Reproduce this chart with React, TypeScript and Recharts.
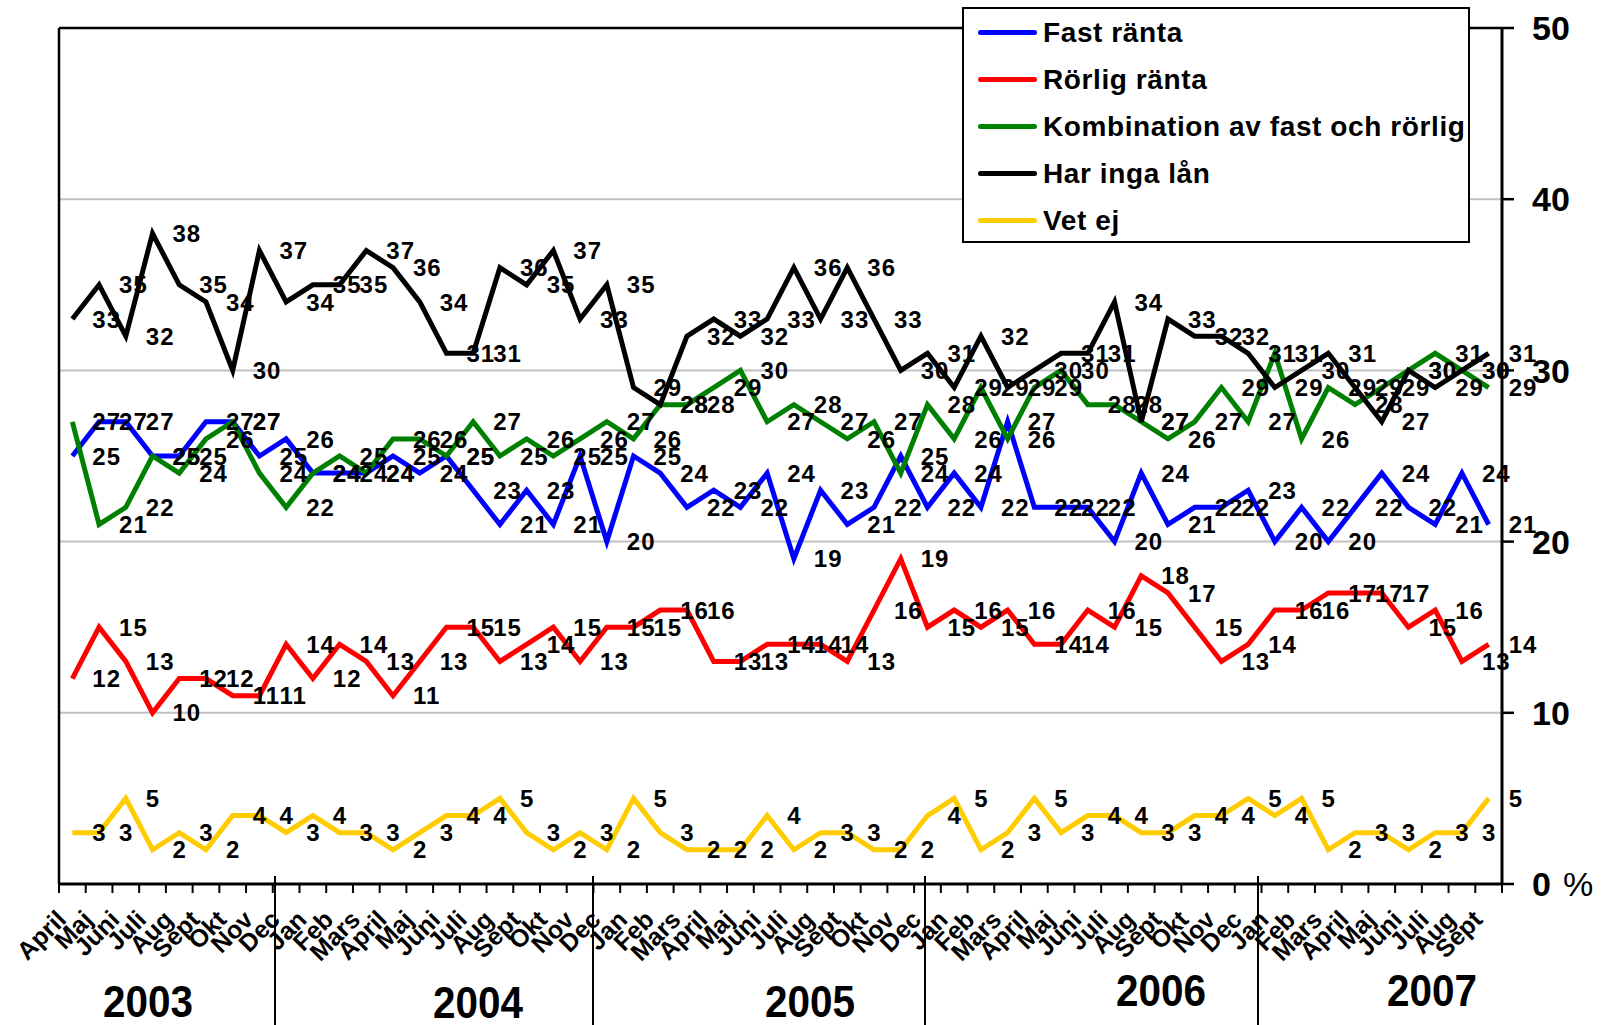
import React from "react";
import {
  LineChart, Line, XAxis, YAxis, CartesianGrid, ReferenceLine, Legend,
} from "recharts";

const FONT = '"Liberation Sans", Arial, sans-serif';

const months = [
  "April", "Maj", "Juni", "Juli", "Aug", "Sept", "Okt", "Nov", "Dec",
  "Jan", "Feb", "Mars", "April", "Maj", "Juni", "Juli", "Aug", "Sept", "Okt", "Nov", "Dec",
  "Jan", "Feb", "Mars", "April", "Maj", "Juni", "Juli", "Aug", "Sept", "Okt", "Nov", "Dec",
  "Jan", "Feb", "Mars", "April", "Maj", "Juni", "Juli", "Aug", "Sept", "Okt", "Nov", "Dec",
  "Jan", "Feb", "Mars", "April", "Maj", "Juni", "Juli", "Aug", "Sept",
];

const years = ["2003", "2004", "2005", "2006", "2007"];

const seriesNames = [
  "Fast ränta",
  "Rörlig ränta",
  "Kombination av fast och rörlig",
  "Har inga lån",
  "Vet ej",
];

const fastRanta = [
  25, 27, 27, 25, 25, 27, 27, 25, 26, 24, 24, 24, 25, 24, 25, 23, 21, 23, 21, 25,
  20, 25, 24, 22, 23, 22, 24, 19, 23, 21, 22, 25, 22, 24, 22, 27, 22, 22, 22, 20,
  24, 21, 22, 22, 23, 20, 22, 20, 22, 24, 22, 21, 24, 21,
];
const rorligRanta = [
  12, 15, 13, 10, 12, 12, 11, 11, 14, 12, 14, 13, 11, 13, 15, 15, 13, 14, 15, 13,
  15, 15, 16, 16, 13, 13, 14, 14, 14, 13, 16, 19, 15, 16, 15, 16, 14, 14, 16, 15,
  18, 17, 15, 13, 14, 16, 16, 17, 17, 17, 15, 16, 13, 14,
];
const kombination = [
  27, 21, 22, 25, 24, 26, 27, 24, 22, 24, 25, 24, 26, 26, 25, 27, 25, 26, 25, 26,
  27, 26, 28, 28, 29, 30, 27, 28, 27, 26, 27, 24, 28, 26, 29, 26, 29, 30, 28, 28,
  27, 26, 27, 29, 27, 31, 26, 29, 28, 29, 30, 31, 30, 29,
];
const ingaLan = [
  33, 35, 32, 38, 35, 34, 30, 37, 34, 35, 35, 37, 36, 34, 31, 31, 36, 35, 37, 33,
  35, 29, 28, 32, 33, 32, 33, 36, 33, 36, 33, 30, 31, 29, 32, 29, 30, 31, 31, 34,
  27, 33, 32, 32, 31, 29, 30, 31, 29, 27, 30, 29, 30, 31,
];
const vetEj = [
  3, 3, 5, 2, 3, 2, 4, 4, 3, 4, 3, 3, 2, 3, 4, 4, 5, 3, 2, 3,
  2, 5, 3, 2, 2, 2, 4, 2, 3, 3, 2, 2, 4, 5, 2, 3, 5, 3, 4, 4,
  3, 3, 4, 4, 5, 4, 5, 2, 3, 3, 2, 3, 3, 5,
];

const yTicks = [0, 10, 20, 30, 40, 50];

const rows = months.map((m, i) => ({
  idx: i,
  month: m,
  fast: fastRanta[i],
  rorlig: rorligRanta[i],
  komb: kombination[i],
  inga: ingaLan[i],
  vet: vetEj[i],
}));

// labels at category centres, tick marks on the boundaries between them
const xTicks: number[] = [];
for (let i = -0.5; i <= months.length - 0.5; i += 0.5) xTicks.push(i);

// hand-placed year dividers and year captions under the axis
const dividerX = [275, 593, 925, 1258];
const yearPos = [
  { x: 148, y: 1002 },
  { x: 478, y: 1003 },
  { x: 810, y: 1002 },
  { x: 1161, y: 991 },
  { x: 1432, y: 991 },
];

function MonthTick(props: any) {
  const { x, y, payload } = props;
  const v = payload.value;
  if (!Number.isInteger(v)) {
    return <line x1={x} y1={y} x2={x} y2={y + 9} stroke="#000" strokeWidth={2} />;
  }
  const ax = x - 11;
  const ay = y + 31;
  return (
    <text
      x={ax} y={ay} dy="0.35em" textAnchor="end"
      transform={`rotate(-45 ${ax} ${ay})`}
      fontSize={25} fontWeight="bold" fontFamily={FONT} fill="#000"
    >
      {months[v]}
    </text>
  );
}

function PctTick(props: any) {
  const { x, y, payload } = props;
  return (
    <text x={x} y={y} dy="0.36em" textAnchor="start" fontSize={34} fontWeight="bold" fontFamily={FONT} fill="#000">
      {payload.value}
      {payload.value === 0 && <tspan fontWeight="normal" dx={12}>%</tspan>}
    </text>
  );
}

function PointLabel(props: any) {
  const x = props.x ?? props.viewBox?.x;
  const y = props.y ?? props.viewBox?.y;
  if (x == null || y == null) return null;
  return (
    <text
      x={x + 20} y={y} dy="0.36em" textAnchor="start"
      fontSize={24} fontWeight="bold" letterSpacing={1} fontFamily={FONT} fill="#000"
    >
      {props.value}
    </text>
  );
}

function LegendBox(props: any) {
  const payload = [...(props.payload ?? [])].sort(
    (a: any, b: any) => seriesNames.indexOf(a.value) - seriesNames.indexOf(b.value),
  );
  return (
    <div
      style={{
        width: 508, height: 236, boxSizing: "border-box", border: "2px solid #000",
        background: "#fff", fontFamily: FONT,
      }}
    >
      {payload.map((p: any) => (
        <div key={p.value} style={{ height: 47, display: "flex", alignItems: "center", paddingLeft: 14, whiteSpace: "nowrap" }}>
          <span style={{ width: 59, height: 5, borderRadius: 3, background: p.color, display: "inline-block", flex: "none" }} />
          <span style={{ marginLeft: 6, fontSize: 28, fontWeight: "bold", letterSpacing: 0.6, color: "#000" }}>
            {p.value}
          </span>
        </div>
      ))}
    </div>
  );
}

export default function App() {
  const lineProps = {
    type: "linear" as const,
    strokeWidth: 5,
    dot: false,
    activeDot: false,
    isAnimationActive: false,
    label: PointLabel,
  };
  return (
    <div style={{ position: "absolute", left: 0, top: 0, width: 1601, height: 1025, background: "#fff", fontFamily: FONT }}>
      <LineChart width={1601} height={1025} data={rows} margin={{ top: 28, right: 0, bottom: 0, left: 59 }}>
        <CartesianGrid vertical={false} stroke="#c0c0c0" strokeWidth={2} />
        <XAxis
          dataKey="idx" type="number" domain={[-0.5, months.length - 0.5]} ticks={xTicks} interval={0}
          tick={<MonthTick />} tickLine={false} tickSize={0} tickMargin={0} height={141}
          axisLine={{ stroke: "#000", strokeWidth: 3 }} allowDataOverflow
        />
        <YAxis
          orientation="right" domain={[0, 50]} ticks={yTicks} width={99} interval={0}
          tick={<PctTick />} tickSize={12} tickMargin={18}
          tickLine={{ stroke: "#000", strokeWidth: 2.5 }} axisLine={{ stroke: "#000", strokeWidth: 3 }}
        />
        <ReferenceLine y={50} stroke="#000" strokeWidth={2.5} />
        <ReferenceLine x={-0.5} stroke="#000" strokeWidth={2.5} />
        <Legend
          layout="vertical" align="center" verticalAlign="middle"
          wrapperStyle={{ left: 962, top: 7, width: 508, height: 236 }}
          content={<LegendBox />}
        />
        <Line {...lineProps} dataKey="fast" name={seriesNames[0]} stroke="#0000ff" />
        <Line {...lineProps} dataKey="rorlig" name={seriesNames[1]} stroke="#ff0000" />
        <Line {...lineProps} dataKey="komb" name={seriesNames[2]} stroke="#008000" />
        <Line {...lineProps} dataKey="inga" name={seriesNames[3]} stroke="#000000" />
        <Line {...lineProps} dataKey="vet" name={seriesNames[4]} stroke="#ffcc00" />
      </LineChart>
      {dividerX.map((x) => (
        <div key={x} style={{ position: "absolute", left: x - 1, top: 876, width: 2, height: 149, background: "#000" }} />
      ))}
      {years.map((yr, i) => (
        <div
          key={yr}
          style={{
            position: "absolute", left: yearPos[i].x - 60, top: yearPos[i].y - 25, width: 120,
            textAlign: "center", fontSize: 44, fontWeight: "bold", lineHeight: "50px",
            transform: "scaleX(0.92)", color: "#000",
          }}
        >
          {yr}
        </div>
      ))}
    </div>
  );
}
